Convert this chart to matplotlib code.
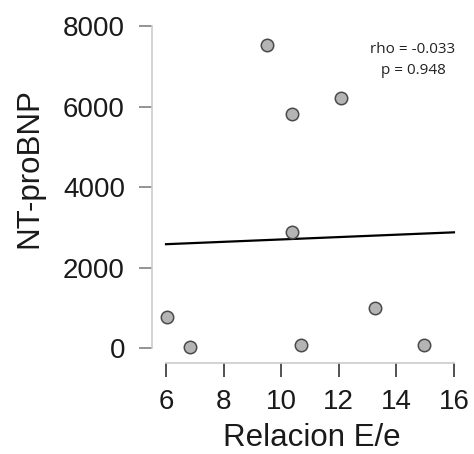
import numpy as np
import matplotlib
matplotlib.use("Agg")
import matplotlib.pyplot as plt

plt.rcParams['font.family'] = ['Liberation Sans', 'DejaVu Sans']

# Relacion E/e vs NT-proBNP
ee_ratio = [6.02, 6.83, 9.52, 10.37, 12.08, 10.39, 10.69, 13.25, 14.97]
nt_probnp = [780, 30, 7530, 5810, 6220, 2870, 80, 1000, 75]

rho_text = "rho = -0.033\np = 0.948"
x_ticks = [6, 8, 10, 12, 14, 16]
y_ticks = [0, 2000, 4000, 6000, 8000]

fig = plt.figure(figsize=(4.74, 4.54), dpi=100)
ax = fig.add_axes([0.3207, 0.2004, 0.654, 0.7555])

# least squares line over the x axis range
slope, icpt = np.polyfit(ee_ratio, nt_probnp, 1)
xl = np.array([x_ticks[0], x_ticks[-1]])
ax.plot(xl, icpt + slope * xl, color='black', lw=1.6, zorder=2)

ax.scatter(ee_ratio, nt_probnp, s=80, facecolor='#b4b4b4',
           edgecolor='#4a4a4a', linewidth=1.1, zorder=3)

ax.set_xlim(5.514, 16.28)
ax.set_ylim(-373, 8149)
ax.set_xticks(x_ticks)
ax.set_yticks(y_ticks)

for s in ['top', 'right']:
    ax.spines[s].set_visible(False)
ax.spines['left'].set_bounds(0, 8000)
ax.spines['bottom'].set_bounds(6, 16)
ax.spines['left'].set_color('#cccccc')
ax.spines['bottom'].set_color('#cccccc')
ax.spines['left'].set_linewidth(1.2)
ax.spines['bottom'].set_linewidth(1.2)

ax.tick_params(axis='y', length=9.5, width=1.1, color='#777777', pad=10,
               labelsize=20, labelcolor='#1a1a1a')
ax.tick_params(axis='x', length=10, width=1.3, color='#444444', pad=9,
               labelsize=20, labelcolor='#1a1a1a')

# axis titles placed in figure coords
fig.text(0.658, 0.018, "Relacion E/e", fontsize=22.5, color='#1a1a1a',
         ha='center', va='baseline')
fig.text(0.063, 0.63, "NT-proBNP", fontsize=22.5, color='#1a1a1a',
         ha='center', va='center', rotation=90)

ax.text(0.842, 0.883, rho_text, transform=ax.transAxes, ha='center',
        va='center', fontsize=11, family=['Open Sans', 'DejaVu Sans'],
        color='#222222', linespacing=1.6)

fig.savefig("out.png", dpi=100)
